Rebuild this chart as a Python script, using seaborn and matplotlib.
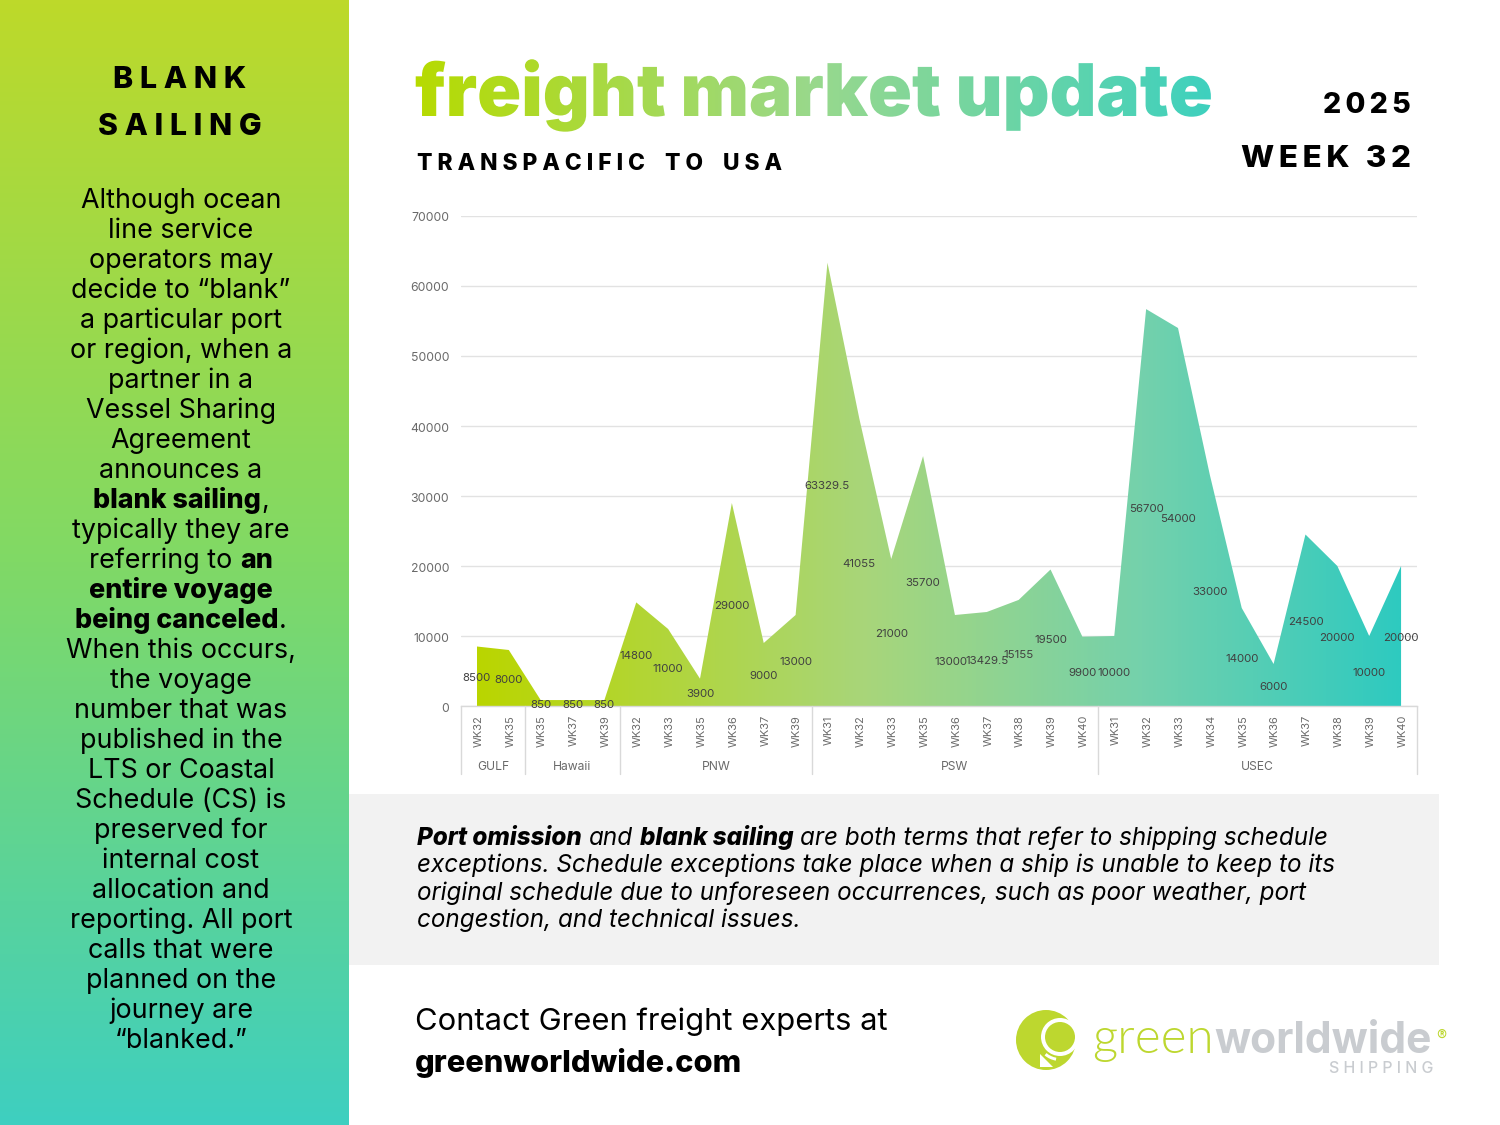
import numpy as np
import pandas as pd
import matplotlib
matplotlib.use("Agg")
import matplotlib.pyplot as plt
import seaborn as sns
from matplotlib.colors import LinearSegmentedColormap
from matplotlib.patches import Rectangle, Circle, Polygon, Wedge
from matplotlib.patheffects import AbstractPathEffect
from matplotlib.transforms import Bbox, ScaledTranslation

# ---------- data ----------
regions = ["GULF", "Hawaii", "PNW", "PSW", "USEC"]
weeks_gulf = ["WK32", "WK35"]
weeks_hawaii = ["WK35", "WK37", "WK39"]
weeks_pnw = ["WK32", "WK33", "WK35", "WK36", "WK37", "WK39"]
weeks_psw = ["WK31", "WK32", "WK33", "WK35", "WK36", "WK37", "WK38", "WK39", "WK40"]
weeks_usec = ["WK31", "WK32", "WK33", "WK34", "WK35", "WK36", "WK37", "WK38", "WK39", "WK40"]
teu_gulf = [8500, 8000]
teu_hawaii = [850, 850, 850]
teu_pnw = [14800, 11000, 3900, 29000, 9000, 13000]
teu_psw = [63329.5, 41055, 21000, 35700, 13000, 13429.5, 15155, 19500, 9900]
teu_usec = [10000, 56700, 54000, 33000, 14000, 6000, 24500, 20000, 10000, 20000]
y_ticks = [0, 10000, 20000, 30000, 40000, 50000, 60000, 70000]

sidebar_lines = [
    [("Although ocean", 0)], [("line service", 0)], [("operators may", 0)],
    [("decide to “blank”", 0)], [("a particular port", 0)], [("or region, when a", 0)],
    [("partner in a", 0)], [("Vessel Sharing", 0)], [("Agreement", 0)],
    [("announces a", 0)], [("blank sailing", 1), (",", 0)], [("typically they are", 0)],
    [("referring to ", 0), ("an", 1)], [("entire voyage", 1)],
    [("being canceled", 1), (".", 0)], [("When this occurs,", 0)], [("the voyage", 0)],
    [("number that was", 0)], [("published in the", 0)], [("LTS or Coastal", 0)],
    [("Schedule (CS) is", 0)], [("preserved for", 0)], [("internal cost", 0)],
    [("allocation and", 0)], [("reporting. All port", 0)], [("calls that were", 0)],
    [("planned on the", 0)], [("journey are", 0)], [("“blanked.”", 0)],
]
note_lines = [
    [("Port omission", 1), (" and ", 0), ("blank sailing", 1),
     (" are both terms that refer to shipping schedule", 0)],
    [("exceptions. Schedule exceptions take place when a ship is unable to keep to its", 0)],
    [("original schedule due to unforeseen occurrences, such as poor weather, port", 0)],
    [("congestion, and technical issues.", 0)],
]

groups = [weeks_gulf, weeks_hawaii, weeks_pnw, weeks_psw, weeks_usec]
series = [teu_gulf, teu_hawaii, teu_pnw, teu_psw, teu_usec]
df = pd.DataFrame({
    "region": [r for r, g in zip(regions, groups) for _ in g],
    "week": [w for g in groups for w in g],
    "teu": [v for s in series for v in s],
})
df["pos"] = np.arange(len(df))

# ---------- figure ----------
sns.set_theme(style="white")
FONT = "Inter"
plt.rcParams["font.family"] = [FONT, "DejaVu Sans"]
W, H = 1500, 1125
fig = plt.figure(figsize=(W / 100, H / 100), dpi=100, facecolor="white")
bg = fig.add_axes([0, 0, 1, 1], zorder=0)
bg.axis("off")

side_cmap = LinearSegmentedColormap.from_list("side", ["#BDD92A", "#80D966", "#3ECFC0"])
area_cmap = LinearSegmentedColormap.from_list(
    "area", [(0, "#BAD500"), (0.42, "#A8D67A"), (0.72, "#74D1AC"), (1, "#2ECAC0")])
title_cmap = LinearSegmentedColormap.from_list(
    "title", [(0, "#B6DA00"), (0.5, "#98D88C"), (1, "#3DD0BE")])

bg.imshow(np.linspace(0, 1, 256)[:, None], cmap=side_cmap, aspect="auto",
          extent=[0, 349, H, 0], zorder=0)
bg.add_patch(Rectangle((349, 794), 1090, 171, fc="#F2F2F2", ec="none", zorder=0))
bg.set_xlim(0, W)
bg.set_ylim(H, 0)

renderer = fig.canvas.get_renderer()


def measure(s, weight="normal", style="normal", size=10, family=None):
    t = bg.text(0, 0, s, fontsize=size, fontweight=weight, fontstyle=style,
                family=family or [FONT, "DejaVu Sans"])
    w = t.get_window_extent(renderer).width
    t.remove()
    return w


def fit(s, target, weight="normal", style="normal", family=None):
    return 40 * target / measure(s, weight, style, 40, family)


def rich_line(x, y, segs, size, weights, style="normal", align="left", color="black"):
    """Place one line from segments of differing weight."""
    space = measure("a a", "normal", style, size) - measure("aa", "normal", style, size)
    parts, total = [], 0
    for s, b in segs:
        lead = space if s.startswith(" ") else 0
        trail = space if s.endswith(" ") else 0
        body = s.strip()
        w = measure(body, weights[b], style, size)
        parts.append((body, weights[b], total + lead))
        total += lead + w + trail
    x0 = x - total / 2 if align == "center" else x
    for body, wt, off in parts:
        bg.text(x0 + off, y, body, fontsize=size, fontweight=wt, fontstyle=style,
                color=color, ha="left", va="baseline", zorder=5)


class GradientFill(AbstractPathEffect):
    """Fill a text path with a horizontal gradient, in pixel-wide slices."""

    def __init__(self, cmap, x0, x1):
        super().__init__()
        self.cmap, self.x0, self.x1 = cmap, x0, x1

    def draw_path(self, renderer, gc, tpath, affine, rgbFace=None):
        for x in range(self.x0, self.x1):
            g = renderer.new_gc()
            g.copy_properties(gc)
            g.set_linewidth(0)
            g.set_clip_rectangle(Bbox.from_extents(x, 0, x + 1, H))
            c = self.cmap((x - self.x0) / (self.x1 - self.x0))
            renderer.draw_path(g, tpath, affine, c)
            g.restore()


TS = "\u2009"
def spaced(s, sep=TS):
    return sep.join(s)


# ---------- sidebar ----------
for s, y, tw in [("BLANK", 88, 133), ("SAILING", 135, 163)]:
    st = spaced(s, " ")
    bg.text(180, y, st, fontsize=fit(st, tw, 800), fontweight=800, color="black",
            ha="center", va="baseline", zorder=5)
body_size = fit("Although ocean", 200, 400)
for i, segs in enumerate(sidebar_lines):
    rich_line(181, 208 + 30 * i, segs, body_size, {0: 400, 1: 800}, align="center")

# ---------- header ----------
title = "freight market update"
bg.text(415, 116, title, fontsize=fit(title, 797, 900), fontweight=900, ha="left",
        va="baseline", color="#80D090", zorder=5,
        path_effects=[GradientFill(title_cmap, 415, 1213)])
sub = "    ".join(spaced(w, " ") for w in "TRANSPACIFIC TO USA".split())
bg.text(417, 170, sub, fontsize=fit(sub, 365, 800), fontweight=800, color="black",
        ha="left", va="baseline", zorder=5)
for s, y, tw in [("2025", 113, 88), ("WEEK 32", 167, 170)]:
    st = spaced(s)
    bg.text(1411, y, st, fontsize=fit(st, tw, 800), fontweight=800, color="black",
            ha="right", va="baseline", zorder=5)

# ---------- chart ----------
ax = fig.add_axes([461 / W, 1 - 706 / H, 956 / W, 490 / H], zorder=2)
ax.patch.set_alpha(0)
sns.lineplot(data=df, x="pos", y="teu", ax=ax, linewidth=0, errorbar=None, sort=False)
poly = ax.fill_between(df["pos"], 0, df["teu"], facecolor="none", edgecolor="none")
img = ax.imshow(np.linspace(0, 1, 512)[None, :], cmap=area_cmap, aspect="auto",
                extent=[df["pos"].iloc[0], df["pos"].iloc[-1], 0, 70000], zorder=2)
img.set_clip_path(poly.get_paths()[0], ax.transData)
ax.set_xlim(-0.5, len(df) - 0.5)
ax.set_ylim(0, 70000)
ax.set_yticks(y_ticks)
ax.set_xticks(df["pos"])
ax.set_xticklabels(df["week"], rotation=90)
ax.set_xlabel("")
ax.set_ylabel("")
ax.yaxis.grid(True, color="#E2E2E2", linewidth=1)
ax.xaxis.grid(False)
ax.set_axisbelow(True)
for side in ["top", "left", "right"]:
    ax.spines[side].set_visible(False)
ax.spines["bottom"].set_color("#D9D9D9")
ax.spines["bottom"].set_linewidth(1)
ax.spines["bottom"].set_zorder(3)
ax.tick_params(axis="y", length=0, pad=8.5, labelsize=fit("70000", 38), labelcolor="#6A6A6A")
ax.tick_params(axis="x", length=0, pad=6.5, labelsize=fit("WK32", 32), labelcolor="#6A6A6A")
shift_y = ScaledTranslation(0, -1 / 100, fig.dpi_scale_trans)
shift_x = ScaledTranslation(1.5 / 100, 0, fig.dpi_scale_trans)
for lab in ax.get_yticklabels():
    lab.set_transform(lab.get_transform() + shift_y)
for lab in ax.get_xticklabels():
    lab.set_transform(lab.get_transform() + shift_x)

label_size = fit("14800", 33.5)
for p, v, w in zip(df["pos"], df["teu"], df["week"]):
    lab = f"{v:g}" if v != int(v) else str(int(v))
    nudge = -3 if lab == "13000" and w == "WK36" else 0
    ax.annotate(lab, (p, v / 2), xytext=(nudge, -1.4), textcoords="offset points",
                fontsize=label_size, color="#404040", ha="center", va="center", zorder=4)

xform = ax.get_xaxis_transform()
edge = -0.5
ax.plot([edge, edge], [0, -68 / 490], transform=xform, color="#D9D9D9", lw=1, clip_on=False)
for region, g in zip(regions, groups):
    end = edge + len(g)
    ax.plot([end, end], [0, -68 / 490], transform=xform, color="#D9D9D9", lw=1, clip_on=False)
    ax.text((edge + end) / 2, -61 / 490, region, transform=xform, fontsize=fit("GULF", 32),
            color="#6A6A6A", ha="center", va="center")
    edge = end

# ---------- note ----------
note_size = fit(note_lines[1][0][0], 916, 400, "italic")
for y, segs in zip([845, 872, 900, 927], note_lines):
    rich_line(417, y, segs, note_size, {0: 400, 1: 800}, style="italic")

# ---------- footer ----------
contact = "Contact Green freight experts at"
bg.text(415, 1030, contact, fontsize=fit(contact, 472, 400), fontweight=400,
        color="black", ha="left", va="baseline", zorder=5)
bg.text(415, 1072, "greenworldwide.com",
        fontsize=fit("greenworldwide.com", 327, 800), fontweight=800,
        color="black", ha="left", va="baseline", zorder=5)

# ---------- logo ----------
LIME, GREY = "#BDD72F", "#C9CCD0"
bg.add_patch(Circle((1046, 1040), 30, fc=LIME, ec="none", zorder=3))
bg.add_patch(Circle((1060, 1037), 19, fc="white", ec="none", zorder=3))
bg.add_patch(Circle((1060, 1037), 15, fc=LIME, ec="none", zorder=3))
bg.add_patch(Wedge((1060, 1037), 24, 100, 130, width=3, fc="white", ec="none", zorder=3))
bg.add_patch(Polygon([[1040, 1054], [1040, 1067], [1053, 1067]], fc="white", ec="none", zorder=3))
bg.text(1092, 1053, "green", fontsize=fit("green", 121, 300, family="Lato"), fontweight=300,
        color=LIME, family="Lato", ha="left", va="baseline", zorder=5)
bg.text(1214, 1053, "worldwide", fontsize=fit("worldwide", 218, 700), fontweight=700,
        color=GREY, ha="left", va="baseline", zorder=5)
bg.text(1441, 1036, "®", fontsize=11, color=LIME, ha="center", va="center", zorder=5)
ship = spaced("SHIPPING", " ")
bg.text(1433, 1073, ship, fontsize=fit(ship, 105, 500), fontweight=500, color=GREY,
        ha="right", va="baseline", zorder=5)

fig.savefig("out.png", dpi=100, facecolor="white")
